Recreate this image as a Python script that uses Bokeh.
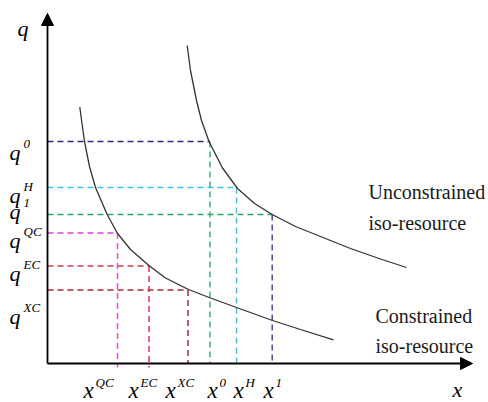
from bokeh.plotting import figure
from bokeh.models import Range1d, Arrow, NormalHead, ColumnDataSource
from bokeh.core.properties import value
from bokeh.embed import file_html
from bokeh.resources import INLINE

# ---- data (diagram units: origin at the axes' corner) ----
level_names = ["0", "H", "1", "QC", "EC", "XC"]
q_levels = [222, 176, 149, 130.5, 97.5, 73.5]
x_levels = [162.5, 189, 224.7, 70, 101.5, 140.5]

# unconstrained iso-resource curve
unc_x = [139.7, 143, 149, 154, 161.5, 175, 190, 207, 224.7, 248, 273, 303, 333, 359]
unc_y = [318, 293, 263, 243, 222, 195.5, 175, 160, 149, 137, 127, 115, 104.5, 96]
# constrained iso-resource curve
con_x = [32.3, 34.5, 37, 42, 48, 59.7, 69.7, 83, 102, 118, 141, 163, 189, 225, 253, 286]
con_y = [256.3, 240, 222, 197, 176, 149, 130.5, 114, 97.5, 85.5, 74, 65.5, 56, 43, 34, 23.7]

# ---- styling / layout ----
h_colors = ["#2B2A7A", "#38C6E8", "#2AA86B", "#E040D0", "#CC3D5A", "#A8283E"]
v_colors = ["#3DAF7F", "#5BB8DC", "#4A4A9E", "#FF3CF0", "#E0304E", "#A0283C"]
v_bottom = [0, 0, 0, -4, -4, 0]
q_label_dy = [-11, -8, 3, -7, -7.5, -26.5]
x_label_dx = [-2.5, -3, -8.7, -34, -20.5, -22.5]
Y_TOP = 350
X_END = 425

SERIF = value("Liberation Serif")

p = figure(width=488, height=402, x_range=Range1d(-47, 441), y_range=Range1d(-39, 363),
           output_backend="svg", toolbar_location=None, min_border=0)
p.axis.visible = False
p.grid.visible = False
p.outline_line_color = None
p.background_fill_color = "white"
p.border_fill_color = "white"

# dashed guide lines
n = len(q_levels)
hsrc = ColumnDataSource(dict(x0=[0] * n, y0=q_levels, x1=x_levels, y1=q_levels, c=h_colors))
vsrc = ColumnDataSource(dict(x0=x_levels, y0=q_levels, x1=x_levels, y1=v_bottom, c=v_colors))
p.segment("x0", "y0", "x1", "y1", source=hsrc, line_color="c", line_width=1.5, line_dash="6 4")
p.segment("x0", "y0", "x1", "y1", source=vsrc, line_color="c", line_width=1.5, line_dash="6 4")

# curves
p.line(unc_x, unc_y, line_color="#333333", line_width=1.3)
p.line(con_x, con_y, line_color="#333333", line_width=1.3)

# axes with arrow heads
p.add_layout(Arrow(x_start=0, y_start=0, x_end=0, y_end=Y_TOP, line_width=1.8, line_color="black",
                   end=NormalHead(size=12, fill_color="black", line_color="black")))
p.add_layout(Arrow(x_start=0, y_start=0, x_end=X_END, y_end=0, line_width=1.8, line_color="black",
                   end=NormalHead(size=12, fill_color="black", line_color="black")))

# axis letters
p.text(x=[-30, 405], y=[335, -26], text=["q", "x"], text_font=SERIF, text_font_style="italic",
       text_font_size="22px", text_color="black", text_align="left", text_baseline="alphabetic")

# q tick labels
qb_y = [q + d for q, d in zip(q_levels, q_label_dy)]
p.text(x=[-38] * n, y=qb_y, text=["q"] * n, text_font=SERIF, text_font_style="italic",
       text_font_size="22px", text_color="black", text_align="left", text_baseline="alphabetic")
p.text(x=[-24] * n, y=[y + 9 for y in qb_y], text=level_names, text_font=SERIF,
       text_font_style="italic", text_font_size="13px", text_color="black",
       text_align="left", text_baseline="alphabetic")

# x tick labels
xb_x = [x + d for x, d in zip(x_levels, x_label_dx)]
p.text(x=xb_x, y=[-27] * n, text=["x"] * n, text_font=SERIF, text_font_style="italic",
       text_font_size="23px", text_color="black", text_align="left", text_baseline="alphabetic")
p.text(x=[x + 12 for x in xb_x], y=[-19] * n, text=level_names, text_font=SERIF,
       text_font_style="italic", text_font_size="13px", text_color="black",
       text_align="left", text_baseline="alphabetic")

# curve names
p.text(x=[321, 321, 328, 328], y=[172, 141, 48, 18],
       text=["Unconstrained", "iso-resource", "Constrained", "iso-resource"],
       text_font=SERIF, text_font_size="20px", text_color="#1a1a1a",
       text_align="left", text_baseline="alphabetic")

open("out.html", "w").write(file_html(p, INLINE))
